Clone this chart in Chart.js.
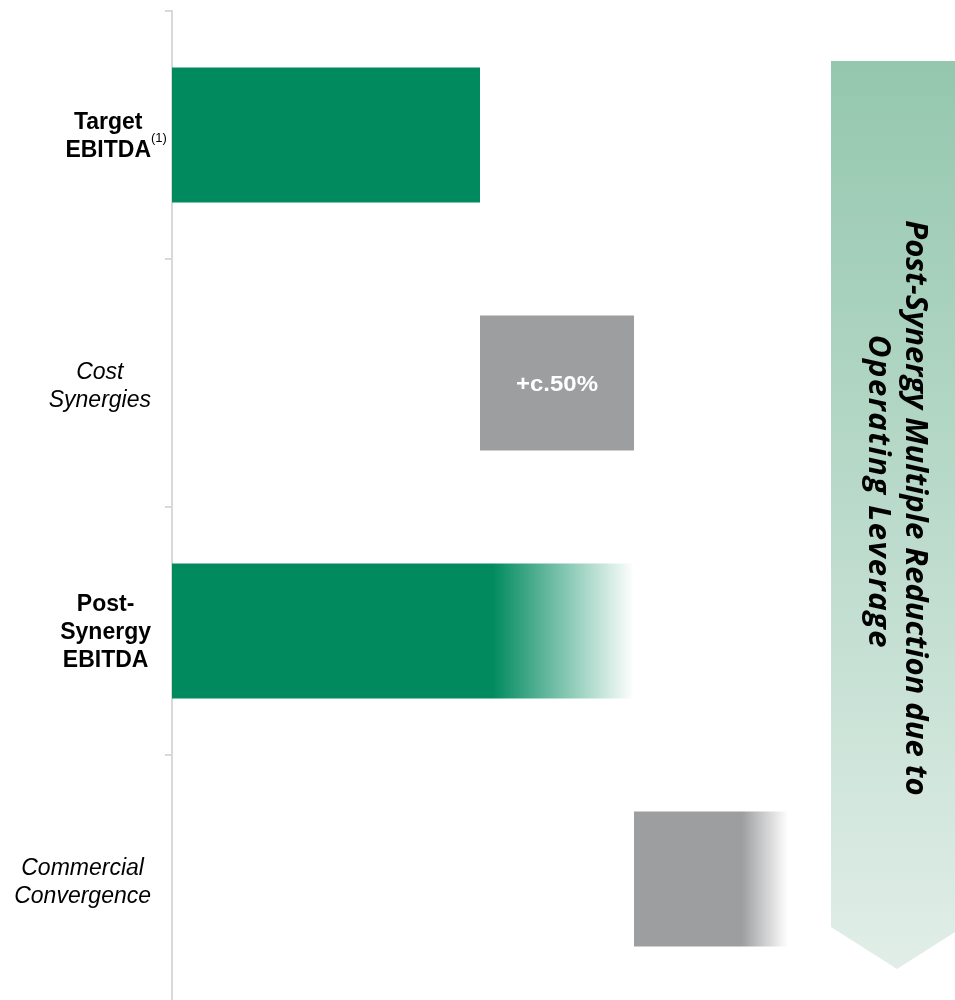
<!DOCTYPE html>
<html>
<head>
<meta charset="utf-8">
<script src="https://cdn.jsdelivr.net/npm/chart.js@4.4.1/dist/chart.umd.min.js"></script>
<style>
    html, body { margin: 0; padding: 0; background: #fff; overflow: hidden; }
    #wrap { width: 955px; height: 1003px; position: relative; }
</style>
</head>
<body>
<div id="wrap"><canvas id="bridge"></canvas></div>
<script>
// Chart data
const categories = [['Target', 'EBITDA'], ['Cost', 'Synergies'], ['Post-', 'Synergy', 'EBITDA'], ['Commercial', 'Convergence']];
const barStart = [0, 100, 0, 150];
const barEnd = [100, 150, 150, 200];
const boldRows = [true, false, true, false];
const barLabels = ['', '+c.50%', '', ''];
const fadeFrom = [null, null, 104, 185];   // value where the fade-out begins
const arrowLines = ['Post-Synergy Multiple Reduction due to', 'Operating Leverage'];

const GREEN = [0, 138, 94];
const GREY = [157, 158, 160];
const LABEL_FONT = '"Liberation Sans", Arial, sans-serif';

function rgba(c, a) {
    return `rgba(${c[0]}, ${c[1]}, ${c[2]}, ${a})`;
}

function barColor(context) {
    const i = context.dataIndex;
    const base = (i === 0 || i === 2) ? GREEN : GREY;
    const chart = context.chart;
    if (fadeFrom[i] === null || !chart.chartArea) return rgba(base, 1);
    const x = chart.scales.x;
    const x0 = x.getPixelForValue(barStart[i]);
    const x1 = x.getPixelForValue(barEnd[i]);
    const xs = x.getPixelForValue(fadeFrom[i]);
    const g = chart.ctx.createLinearGradient(x0, 0, x1, 0);
    const stop = (xs - x0) / (x1 - x0);
    g.addColorStop(0, rgba(base, 1));
    g.addColorStop(stop, rgba(base, 1));
    g.addColorStop(1, rgba(base, 0));
    return g;
}

// draws the category labels, with centred lines
const categoryLabels = {
    id: 'categoryLabels',
    afterDraw(chart) {
        const ctx = chart.ctx;
        const y = chart.scales.y;
        const lineH = 28;
        ctx.save();
        ctx.fillStyle = '#000';
        ctx.textBaseline = 'middle';
        ctx.textAlign = 'center';
        categories.forEach((lines, i) => {
            ctx.font = (boldRows[i] ? 'bold ' : 'italic ') + '23px ' + LABEL_FONT;
            const maxW = Math.max(...lines.map(l => ctx.measureText(l).width));
            const cx = 151 - maxW / 2;
            const cy = y.getPixelForTick(i) + (boldRows[i] ? 1.5 : 4);
            lines.forEach((l, k) => {
                ctx.fillText(l, cx, cy + (k - (lines.length - 1) / 2) * lineH);
            });
            if (i === 0) {
                ctx.font = '13px ' + LABEL_FONT;
                ctx.textAlign = 'left';
                ctx.fillText('(1)', cx + maxW / 2 + 0, cy + 2);
                ctx.textAlign = 'center';
            }
        });
        ctx.restore();
    }
};

// white value text inside bars
const barText = {
    id: 'barText',
    afterDatasetsDraw(chart) {
        const ctx = chart.ctx;
        const meta = chart.getDatasetMeta(0);
        ctx.fillStyle = '#fff';
        ctx.font = 'bold 22px ' + LABEL_FONT;
        ctx.textAlign = 'center';
        ctx.textBaseline = 'middle';
        meta.data.forEach((bar, i) => {
            if (!barLabels[i]) return;
            ctx.save();
            ctx.translate((bar.x + bar.base) / 2, bar.y + 2);
            ctx.scale(1.09, 1);
            ctx.fillText(barLabels[i], 0, 0);
            ctx.restore();
        });
    }
};

// big chevron arrow on the right
const sideArrow = {
    id: 'sideArrow',
    beforeDatasetsDraw(chart) {
        const ctx = chart.ctx;
        const left = 831, right = 963, top = 61, shoulder = 927, tip = 969;
        const mid = (left + right) / 2;
        ctx.save();
        const g = ctx.createLinearGradient(0, top, 0, tip);
        g.addColorStop(0, '#94c7ae');
        g.addColorStop(1, '#e1eee8');
        ctx.fillStyle = g;
        ctx.beginPath();
        ctx.moveTo(left, top);
        ctx.lineTo(right, top);
        ctx.lineTo(right, shoulder);
        ctx.lineTo(mid, tip);
        ctx.lineTo(left, shoulder);
        ctx.closePath();
        ctx.fill();

        ctx.rotate(Math.PI / 2);
        ctx.fillStyle = '#000';
        ctx.font = 'italic bold 31px "Open Sans", sans-serif';
        ctx.textAlign = 'center';
        ctx.textBaseline = 'middle';
        // rotated frame: x runs down the page, -y runs right
        ctx.fillText(arrowLines[0], 508, -915);
        ctx.letterSpacing = '1.5px';
        ctx.fillText(arrowLines[1], 492, -878);
        ctx.restore();
    }
};

const ctx = document.getElementById('bridge').getContext('2d');
const chart = new Chart(ctx, {
    type: 'bar',
    data: {
        labels: categories.map(c => c.join(' ')),
        datasets: [{
            data: barStart.map((s, i) => [s, barEnd[i]]),
            backgroundColor: barColor,
            borderWidth: 0,
            barPercentage: 0.545,
            categoryPercentage: 1
        }]
    },
    options: {
        indexAxis: 'y',
        responsive: true,
        maintainAspectRatio: false,
        animation: false,
        layout: { padding: { top: 11, right: 13, bottom: 0, left: 0 } },
        plugins: {
            legend: { display: false },
            tooltip: { enabled: false }
        },
        scales: {
            x: { display: false, min: 0, max: 250 },
            y: {
                ticks: { display: false },
                grid: {
                    drawOnChartArea: false,
                    drawTicks: true,
                    tickLength: 7,
                    color: '#d9d9d9',
                    lineWidth: 2
                },
                border: { color: '#d9d9d9', width: 2 },
                afterFit(scale) { scale.width = 172; }
            }
        }
    },
    plugins: [categoryLabels, barText, sideArrow]
});
</script>
</body>
</html>
